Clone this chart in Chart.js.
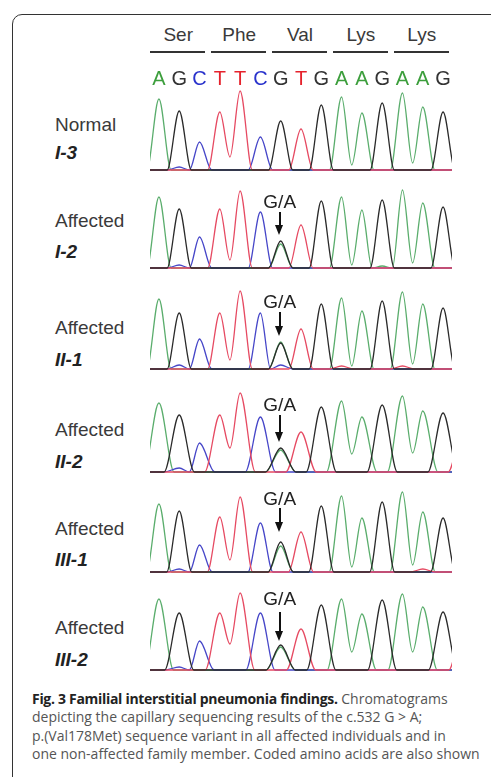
<!DOCTYPE html>
<html>
<head>
<meta charset="utf-8">
<script src="https://cdn.jsdelivr.net/npm/chart.js@4.4.1/dist/chart.umd.min.js"></script>
<style>
  html, body { margin: 0; padding: 0; background: #fff; }
  #wrap { position: relative; width: 491px; height: 777px; overflow: hidden; background: #fff; }
  #box { position: absolute; left: 12px; top: 14px; width: 520px; height: 820px; border: 1.8px solid #333; border-radius: 10px; }
  .lbl { position: absolute; font-family: "Liberation Sans", Arial, sans-serif; font-size: 19px; color: #3a3a3a; white-space: nowrap; line-height: 1; }
  .id { font-weight: bold; font-style: italic; color: #222; }
  .aa { transform: translate(-50%, -50%); }
  .base { transform: translate(-50%, -50%); font-size: 20px; }
  .uline { position: absolute; height: 2px; background: #333; }
  .ga { position: absolute; transform: translate(-50%, -50%); font-family: "Liberation Sans", Arial, sans-serif; font-size: 19px; color: #222; line-height: 1; }
  .arrow { position: absolute; width: 2px; background: #111; }
  .head { position: absolute; width: 0; height: 0; border-left: 4.5px solid transparent; border-right: 4.5px solid transparent; border-top: 10px solid #111; }
  canvas.trace { position: absolute; left: 150px; }
  #caption { position: absolute; left: 32px; top: 690px; font-family: "Open Sans", "Noto Sans", sans-serif; font-size: 14px; line-height: 18.4px; color: #555; white-space: nowrap; }
  #caption b { color: #222; letter-spacing: -0.3px; }
</style>
</head>
<body>
<div id="wrap">
  <div id="box"></div>
  <div id="caption">
    <div><b>Fig. 3 Familial interstitial pneumonia findings.</b> Chromatograms</div>
    <div>depicting the capillary sequencing results of the c.532 G &gt; A;</div>
    <div>p.(Val178Met) sequence variant in all affected individuals and in</div>
    <div>one non-affected family member. Coded amino acids are also shown</div>
  </div>
</div>
<script>
// ---------------- data ----------------
const bases = ['A','G','C','T','T','C','G','T','G','A','A','G','A','A','G'];
const aminoAcids = ['Ser','Phe','Val','Lys','Lys'];
const rowStatus = ['Normal','Affected','Affected','Affected','Affected','Affected'];
const rowIds = ['I-3','I-2','II-1','II-2','III-1','III-2'];
const variantPos = 6;
const variantLabel = 'G/A';

// peak heights at each called base (signal units)
const peaksI3   = [71, 59, 28, 58, 79, 33, 49, 41, 65, 73, 57, 67, 77, 63, 58];
const peaksI2   = [71, 59, 31, 59, 77, 56, 27, 43, 67, 71, 58, 68, 78, 65, 61];
const peaksII1  = [70, 56, 30, 56, 78, 56, 26, 40, 65, 71, 58, 68, 77, 65, 61];
const peaksII2  = [69, 57, 29, 57, 79, 55, 24, 40, 65, 71, 55, 67, 76, 61, 59];
const peaksIII1 = [68, 61, 27, 55, 75, 49, 30, 40, 66, 76, 54, 70, 80, 60, 54];
const peaksIII2 = [71, 57, 29, 57, 77, 57, 25, 41, 65, 71, 56, 70, 76, 63, 58];

// valleys between repeated bases (T-T, A-A, A-A)
const valleysI3   = [13, 5, 7];
const valleysI2   = [8, 3, 5];
const valleysII1  = [9, 3, 5];
const valleysII2  = [24, 18, 19];
const valleysIII1 = [12, 5, 7];
const valleysIII2 = [26, 18, 18];

// secondary / minor peaks: [position, base, height]
const minorI3   = [[1,'C',3]];
const minorI2   = [[6,'A',24],[1,'C',3],[11,'A',2]];
const minorII1  = [[6,'A',27],[1,'C',4],[6,'C',4],[9,'T',3],[12,'T',3]];
const minorII2  = [[6,'A',22],[1,'C',4],[15,'T',45]];
const minorIII1 = [[6,'A',26],[1,'C',3],[13,'T',3]];
const minorIII2 = [[6,'A',23],[1,'C',3],[15,'T',45]];

// peak half-widths (in base units)
const peakSpread = [0.6, 0.6, 0.6, 0.75, 0.62, 0.72];

const rowPeaks = [peaksI3, peaksI2, peaksII1, peaksII2, peaksIII1, peaksIII2];
const rowValleys = [valleysI3, valleysI2, valleysII1, valleysII2, valleysIII1, valleysIII2];
const rowMinor = [minorI3, minorI2, minorII1, minorII2, minorIII1, minorIII2];

// ---------------- layout / style ----------------
const channelColor = { G: '#2a2a2a', T: '#e64a62', C: '#4646c8', A: '#5aad6c' };
const letterColor = { A: '#3c9e3c', G: '#333333', C: '#2a33cc', T: '#e5222c' };
const drawOrder = ['G','T','C','A'];
const baselines = [170, 268, 369, 472, 572, 670];
const statusY = [125, 221, 328, 430, 529, 628];
const idY = [153, 252, 360, 462, 560, 660];
const gaY = [null, 201, 301, 404, 498, 598];
const arrowTop = [null, 212, 312, 415, 508, 612];
const arrowTip = [null, 235, 336, 442, 532, 641];
const CW = 302, CH = 87, YMAX = 84, YMIN = -3, XMIN = -0.44, XMAX = 14.44;

const pairIdx = [];
for (let i = 0; i < bases.length - 1; i++) if (bases[i] === bases[i+1]) pairIdx.push(i);

function buildTrace(r, ch) {
  const spread = peakSpread[r];
  const pk = [];
  bases.forEach((b, i) => { if (b === ch) pk.push([i, rowPeaks[r][i]]); });
  rowMinor[r].forEach(([i, b, h]) => { if (b === ch) pk.push([i, h]); });
  pk.sort((a, b) => a[0] - b[0]);
  const pts = [{x: -3, y: 0}];
  pk.forEach(([i, h], k) => {
    const prev = pk[k-1], next = pk[k+1];
    if (prev && prev[0] === i - 1) {
      const vi = pairIdx.indexOf(i - 1);
      pts.push({x: i - 0.5, y: vi >= 0 ? rowValleys[r][vi] : 0});
    } else {
      pts.push({x: i - spread, y: 0});
    }
    pts.push({x: i, y: h});
    if (!(next && next[0] === i + 1)) pts.push({x: i + spread, y: 0});
  });
  pts.push({x: 18, y: 0});
  return pts;
}

const wrap = document.getElementById('wrap');
function addEl(cls, text, css) {
  const d = document.createElement('div');
  d.className = cls;
  if (text !== null) d.textContent = text;
  Object.assign(d.style, css);
  wrap.appendChild(d);
  return d;
}

const charts = [];
rowPeaks.forEach((_, r) => {
  const cv = document.createElement('canvas');
  cv.className = 'trace';
  cv.width = CW; cv.height = CH;
  cv.style.width = CW + 'px'; cv.style.height = CH + 'px';
  cv.style.top = (baselines[r] - YMAX) + 'px';
  wrap.appendChild(cv);
  const chart = new Chart(cv.getContext('2d'), {
    type: 'line',
    data: {
      datasets: drawOrder.map(ch => ({
        label: ch,
        data: buildTrace(r, ch),
        borderColor: channelColor[ch],
        borderWidth: 1.3,
        pointRadius: 0,
        fill: false,
        cubicInterpolationMode: 'monotone',
        clip: {left: 0, right: 0, top: 10, bottom: 10}
      }))
    },
    options: {
      responsive: false,
      animation: false,
      events: [],
      layout: { padding: 0 },
      plugins: { legend: { display: false }, tooltip: { enabled: false } },
      scales: {
        x: { type: 'linear', min: XMIN, max: XMAX, display: false },
        y: { min: YMIN, max: YMAX, display: false }
      }
    }
  });
  charts.push(chart);

  addEl('lbl', rowStatus[r], { left: '55px', top: (statusY[r] - 10) + 'px' });
  addEl('lbl id', rowIds[r], { left: '55px', top: (idY[r] - 10) + 'px' });
});

const xs = charts[0].scales.x;
const px = v => 150 + xs.getPixelForValue(v);

// amino acids and underlines
aminoAcids.forEach((aa, k) => {
  const c = px(3 * k + 1) - 1;
  addEl('lbl aa', aa, { left: c + 'px', top: '34px' });
  const a = px(3 * k - 0.42), b = px(3 * k + 2.28);
  addEl('uline', null, { left: a + 'px', top: '51px', width: (b - a) + 'px' });
});
// base calls
bases.forEach((b, i) => {
  addEl('lbl base', b, { left: px(i) + 'px', top: '78px', color: letterColor[b] });
});
// variant markers
for (let r = 1; r < rowPeaks.length; r++) {
  const c = px(variantPos) - 1;
  addEl('ga', variantLabel, { left: c + 'px', top: gaY[r] + 'px' });
  addEl('arrow', null, { left: (c - 1) + 'px', top: arrowTop[r] + 'px', height: (arrowTip[r] - arrowTop[r] - 8) + 'px' });
  addEl('head', null, { left: (c - 4.5) + 'px', top: (arrowTip[r] - 10) + 'px' });
}
</script>
</body>
</html>
